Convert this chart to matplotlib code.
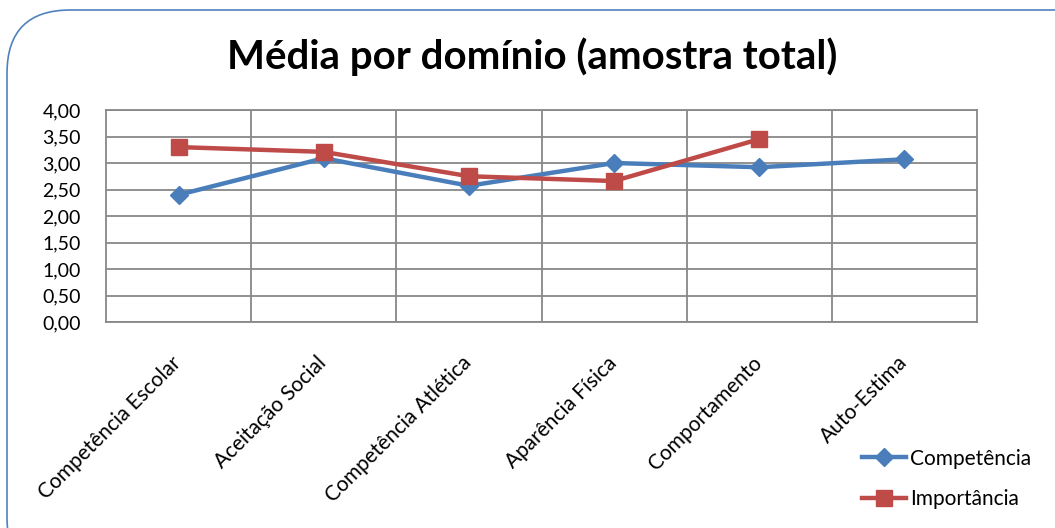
import numpy as np
import matplotlib.pyplot as plt
from matplotlib.patches import FancyBboxPatch

categories = ["Competência Escolar", "Aceitação Social", "Competência Atlética",
              "Aparência Física", "Comportamento", "Auto-Estima"]
competencia = [2.40, 3.09, 2.57, 3.00, 2.92, 3.07]
importancia = [3.30, 3.21, 2.75, 2.66, 3.45, np.nan]
yticks = [0.0, 0.5, 1.0, 1.5, 2.0, 2.5, 3.0, 3.5, 4.0]

plt.rcParams['font.family'] = ['Lato', 'DejaVu Sans']

fig = plt.figure(figsize=(10.55, 5.28), dpi=100)
W, H = 1055, 528

# rounded chart border (runs off the right and bottom edges)
border = FancyBboxPatch((7 / W, -0.1), 1.2, 1 - 10 / H + 0.1,
                        boxstyle="round,pad=0,rounding_size=0.06",
                        transform=fig.transFigure, fill=False,
                        edgecolor="#4F81BD", linewidth=1.2,
                        mutation_aspect=W / H)
fig.patches.append(border)

ax = fig.add_axes([106 / W, 1 - 322 / H, (977 - 106) / W, (322 - 110) / H])

x = np.arange(len(categories))
ax.plot(x, competencia, color="#4A7EBB", lw=3.2, marker="D", markersize=9,
        label="Competência", zorder=3)
ax.plot(x, importancia, color="#BE4B48", lw=3.2, marker="s", markersize=11,
        label="Importância", zorder=3)

ax.set_xlim(-0.5, len(categories) - 0.5)
ax.set_ylim(0, 4)
ax.set_yticks(yticks)
ax.set_yticklabels([f"{v:.2f}".replace(".", ",") for v in yticks], fontsize=14)
ax.set_xticks(x - 0.05)
ax.set_xticklabels(categories, rotation=45, ha="right", rotation_mode="anchor",
                   fontsize=15)
ax.tick_params(axis="both", length=0)
ax.tick_params(axis="x", pad=22)
ax.tick_params(axis="y", pad=18)

# gridlines: horizontal at ticks, vertical between categories
ax.grid(axis="y", color="#888888", lw=1.3)
for b in np.arange(0.5, len(categories) - 1, 1.0):
    ax.axvline(b, color="#888888", lw=1.3, zorder=1)
ax.set_axisbelow(True)
for s in ax.spines.values():
    s.set_color("#888888")
    s.set_linewidth(1.3)

fig.text(532 / W, 1 - 57 / H, "Média por domínio (amostra total)",
         ha="center", va="center", fontsize=29, fontweight="bold")

fig.legend(loc="center left", bbox_to_anchor=(862 / W, 1 - 479 / H),
           frameon=False, fontsize=15, handlelength=2.1, labelspacing=1.0,
           handletextpad=0.2, borderpad=0, borderaxespad=0)

fig.savefig("out.png", dpi=100)
